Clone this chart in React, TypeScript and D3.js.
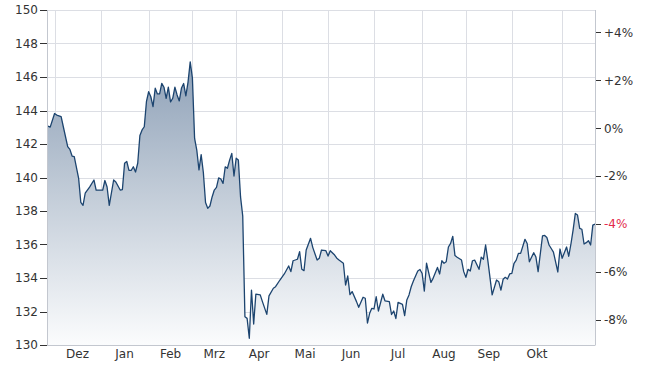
import React from "react";
import * as d3 from "d3";

// trading-day index (x) and closing price (y)
const tradingDays = [0,1,3,4,6,7,9,10,11,12,14,15,16,17,19,21,22,24,25,26,27,28,30,31,33,34,35,36,37,38,39,40,41,42,43,44,45,46,47,48,49,50,51,52,53,54,55,56,57,58,59,60,61,62,63,64,65,66,67,68,69,70,71,72,73,74,75,76,77,78,79,80,81,82,83,84,85,86,87,88,89,90,91,92,93,94,95,97,98,100,101,103,104,106,108,110,111,112,114,115,116,117,118,120,121,123,124,125,127,128,129,131,132,133,135,136,137,138,139,141,142,144,145,146,147,148,149,150,151,153,154,156,157,158,159,160,162,163,164,165,166,167,169,170,171,172,173,175,176,178,179,180,181,182,183,184,185,186,187,189,190,191,192,193,194,195,197,198,199,200,201,203,205,206,207,208,209,210,211,212,213,214,215,216,218,219,220,222,223,224,226,227,228,229,230,231,233,234,235,237,238,239,240,241,242,243,244,245,246,247,248,249,250];
const closes = [143.07,143.01,143.82,143.73,143.64,143.03,141.84,141.68,141.28,141.25,139.95,138.51,138.34,139.06,139.43,139.85,139.25,139.25,139.25,139.82,139.43,138.34,139.85,139.73,139.25,139.28,140.85,140.96,140.42,140.42,140.64,140.33,140.85,142.51,142.84,143.03,144.54,145.12,144.82,144.23,145.33,144.99,144.99,145.62,145.39,144.73,145.40,144.51,144.73,145.39,144.93,144.57,145.34,145.61,144.87,145.70,146.90,145.94,142.33,141.64,140.45,141.37,140.30,138.51,138.16,138.30,138.84,139.25,139.41,139.98,139.91,139.65,140.64,140.55,141.04,141.44,140.09,141.15,141.04,138.84,137.70,131.69,131.59,130.40,133.28,131.25,133.04,132.99,132.59,131.83,132.93,133.39,133.48,133.88,134.24,134.72,134.38,135.03,135.12,135.57,134.52,134.44,135.67,136.37,135.83,135.07,135.18,135.67,135.63,135.31,135.63,135.37,135.18,135.07,134.88,133.58,134.12,133.01,133.19,132.59,132.25,132.85,132.79,131.31,131.89,132.19,132.15,132.88,132.03,133.03,132.64,132.59,131.82,132.03,131.58,132.54,132.42,131.75,132.69,132.99,133.48,133.82,134.42,134.51,134.27,133.22,134.88,133.74,133.98,134.63,134.24,135.03,134.88,134.97,135.85,136.07,136.49,135.34,135.24,135.07,134.38,134.04,134.52,134.42,135.03,135.07,134.52,135.24,135.12,135.97,135.07,132.99,133.88,133.78,133.28,133.92,134.04,133.94,134.24,134.28,134.88,135.07,135.47,135.47,136.31,136.06,134.97,135.51,135.25,134.38,136.51,136.54,136.42,135.97,135.76,135.55,134.36,135.73,135.18,135.85,135.30,136.03,136.87,137.85,137.76,136.96,136.91,136.03,136.11,136.23,135.97,137.16,137.22];

const priceTicks = [130,132,134,136,138,140,142,144,146,148,150];
const percentTicks = [4,2,0,-2,-4,-6,-8];
const basePrice = 142.94;
const highlightPercent = -4;
const monthStarts = [3,24,46,66,86,107,128,149,171,191,212,235];
const monthLabels = ["Dez","Jan","Feb","Mrz","Apr","Mai","Jun","Jul","Aug","Sep","Okt"];
const dayDomain = [0,250];
const priceDomain = [130,150];

const W = 650, H = 370;
const L = 48, R = 595, T = 10, B = 345;
const FONT = "'DejaVu Sans', Verdana, sans-serif";

export default function App() {
  const x = d3.scaleLinear().domain(dayDomain).range([L, R]);
  const y = d3.scaleLinear().domain(priceDomain).range([B, T]);
  const pts: [number, number][] = tradingDays.map((d, i) => [d, closes[i]]);
  const line = d3.line<[number, number]>().x(d => x(d[0])).y(d => y(d[1]));
  const area = d3.area<[number, number]>().x(d => x(d[0])).y0(B).y1(d => y(d[1]));
  const crisp = (v: number) => Math.round(v) + 0.5;
  const pctLabel = (p: number) => (p > 0 ? "+" : "") + p + "%";

  return (
    <svg width={W} height={H} style={{ position: "absolute", left: 0, top: 0, background: "#fff" }} fontFamily={FONT}>
      <defs>
        <linearGradient id="fillGrad" gradientUnits="userSpaceOnUse" x1="0" y1={T} x2="0" y2={B}>
          <stop offset="0" stopColor="#7a90ab" />
          <stop offset="0.5" stopColor="#bcc7d4" />
          <stop offset="1" stopColor="#fbfcfd" />
        </linearGradient>
      </defs>
      {/* horizontal grid */}
      {priceTicks.map(t => (
        <line key={"h" + t} x1={L} x2={R} y1={crisp(y(t))} y2={crisp(y(t))} stroke="#dcdee4" strokeWidth={1} />
      ))}
      {/* vertical grid */}
      {monthStarts.map(m => (
        <line key={"v" + m} x1={crisp(x(m))} x2={crisp(x(m))} y1={T} y2={B} stroke="#dcdee4" strokeWidth={1} />
      ))}
      <path d={area(pts) || ""} fill="url(#fillGrad)" />
      <path d={line(pts) || ""} fill="none" stroke="#1c446f" strokeWidth={1.3} strokeLinejoin="round" />
      {/* axes */}
      <line x1={crisp(L) - 1} x2={crisp(L) - 1} y1={T} y2={B + 0.5} stroke="#c3c7cf" />
      <line x1={crisp(R)} x2={crisp(R)} y1={T} y2={B + 0.5} stroke="#c3c7cf" />
      <line x1={L - 1} x2={R} y1={crisp(B)} y2={crisp(B)} stroke="#c3c7cf" />
      {priceTicks.map(t => (
        <g key={"l" + t}>
          <line x1={40} x2={L - 1} y1={crisp(y(t))} y2={crisp(y(t))} stroke="#333" />
          <text x={38} y={y(t)} dy="0.36em" textAnchor="end" fontSize={12} fill="#333">{t}</text>
        </g>
      ))}
      {percentTicks.map(p => {
        const yy = y(basePrice * (1 + p / 100));
        return (
          <g key={"r" + p}>
            <line x1={R + 1} x2={R + 6} y1={crisp(yy)} y2={crisp(yy)} stroke="#333" />
            <text x={604} y={yy} dy="0.36em" fontSize={12} fill={p === highlightPercent ? "#e3294c" : "#333"}>{pctLabel(p)}</text>
          </g>
        );
      })}
      {monthLabels.map((lab, i) => (
        <text key={lab} x={(x(monthStarts[i]) + x(monthStarts[i + 1])) / 2} y={358} textAnchor="middle" fontSize={12} fill="#333">{lab}</text>
      ))}
    </svg>
  );
}
